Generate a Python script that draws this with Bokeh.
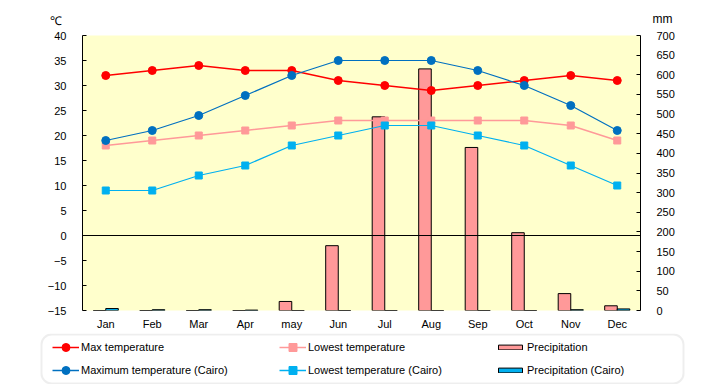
from bokeh.plotting import figure
from bokeh.layouts import column
from bokeh.models import (Range1d, LinearAxis, SingleIntervalTicker, Span, Legend,
                          LegendItem, Label, BoxAnnotation, FactorRange, ColumnDataSource)
from bokeh.transform import dodge
from bokeh.embed import file_html
from bokeh.resources import INLINE

months = ["Jan", "Feb", "Mar", "Apr", "may", "Jun", "Jul", "Aug", "Sep", "Oct", "Nov", "Dec"]
max_temp = [32, 33, 34, 33, 33, 31, 30, 29, 30, 31, 32, 31]
low_temp = [18, 19, 20, 21, 22, 23, 23, 23, 23, 23, 22, 19]
precip = [0, 0, 0, 0, 23, 165, 493, 615, 415, 198, 43, 12]
cairo_max = [19, 21, 24, 28, 32, 35, 35, 35, 33, 30, 26, 21]
cairo_low = [9, 9, 12, 14, 18, 20, 22, 22, 20, 18, 14, 10]
cairo_precip = [5, 2, 2, 1, 0, 0, 0, 0, 0, 0, 2, 4]

FONT = "Liberation Sans"
W = 716

RED, PINK, BLUE, CYAN = "#FF0000", "#FF9999", "#0070C0", "#00B0F0"

src = ColumnDataSource(dict(month=months, max_temp=max_temp, low_temp=low_temp,
                            precip=precip, cairo_max=cairo_max, cairo_low=cairo_low,
                            cairo_precip=cairo_precip))


def no_align(f):
    try:
        f.frame_align = False
    except Exception:
        pass


def blank(h):
    f = figure(width=W, height=h, x_range=Range1d(0, W), y_range=Range1d(0, h),
               x_axis_type=None, y_axis_type=None, output_backend="svg", toolbar_location=None,
               min_border=0, min_border_left=0, min_border_right=0, min_border_top=0,
               min_border_bottom=0)
    f.outline_line_color = None
    f.xgrid.visible = False
    f.ygrid.visible = False
    f.background_fill_color = "white"
    f.border_fill_color = "white"
    no_align(f)
    return f


# header with unit labels
HH = 28
head = blank(HH)
head.add_layout(Label(x=55, y=HH - 20, text="℃", text_align="center", text_baseline="middle",
                      text_font=FONT, text_font_size="12px", text_color="black"))
head.add_layout(Label(x=662, y=HH - 18, text="mm", text_align="center", text_baseline="middle",
                      text_font=FONT, text_font_size="12px", text_color="black"))

# main chart
p = figure(width=W, height=305, x_range=FactorRange(*months), y_range=Range1d(-15, 40),
           output_backend="svg", toolbar_location=None,
           min_border_left=82, min_border_right=W - 640, min_border_top=7, min_border_bottom=23)
no_align(p)
p.background_fill_color = "#FFFFCC"
p.border_fill_color = "white"
p.outline_line_color = None
p.xgrid.visible = False
p.ygrid.visible = False

p.extra_y_ranges = {"precip": Range1d(0, 700)}

yl = p.yaxis[0]
yl.ticker = SingleIntervalTicker(interval=5)
yr = LinearAxis(y_range_name="precip", ticker=SingleIntervalTicker(interval=50))
p.add_layout(yr, "right")
for ax in (yl, yr):
    ax.major_tick_in = 4
    ax.major_tick_out = 0
    ax.minor_tick_line_color = None
    ax.axis_line_color = "black"
    ax.major_tick_line_color = "black"
    ax.major_label_standoff = 12
    ax.major_label_text_font = FONT
    ax.major_label_text_font_size = "11px"
    ax.major_label_text_color = "black"

xa = p.xaxis[0]
xa.axis_line_color = None
xa.major_tick_line_color = None
xa.minor_tick_line_color = None
xa.major_label_standoff = 1
xa.major_label_text_font = FONT
xa.major_label_text_font_size = "11px"
xa.major_label_text_color = "black"

p.vbar(x=dodge("month", -0.135, range=p.x_range), top="precip", bottom=0, width=0.27,
       source=src, y_range_name="precip", fill_color=PINK, line_color="black", line_width=1)
p.vbar(x=dodge("month", 0.135, range=p.x_range), top="cairo_precip", bottom=0, width=0.27,
       source=src, y_range_name="precip", fill_color=CYAN, line_color="black", line_width=1)

p.add_layout(Span(location=0, dimension="width", line_color="black", line_width=1))

p.line("month", "max_temp", source=src, line_color=RED, line_width=1.5)
p.scatter("month", "max_temp", source=src, marker="circle", size=8, fill_color=RED, line_color=RED)
p.line("month", "low_temp", source=src, line_color=PINK, line_width=1.5)
p.scatter("month", "low_temp", source=src, marker="square", size=7, fill_color=PINK, line_color=PINK)
p.line("month", "cairo_max", source=src, line_color=BLUE, line_width=1.2)
p.scatter("month", "cairo_max", source=src, marker="circle", size=8, fill_color=BLUE, line_color=BLUE)
p.line("month", "cairo_low", source=src, line_color=CYAN, line_width=1.2)
p.scatter("month", "cairo_low", source=src, marker="square", size=7, fill_color=CYAN, line_color=CYAN)

# legend strip (key samples are styled stand-ins placed outside the visible range)
LH = 51
lg = blank(LH)
box = BoxAnnotation(left=41, right=683, top=LH - 1, bottom=1,
                    fill_color="white", fill_alpha=1, line_color="#C8C8C8", line_width=2)
try:
    box.border_radius = 10
except Exception:
    pass
lg.add_layout(box)

off = dict(x=[-100, -90], y=[-100, -100])
r = {}
for key, col, mk in (("max", RED, "circle"), ("low", PINK, "square"),
                     ("cmax", BLUE, "circle"), ("clow", CYAN, "square")):
    r[key] = [lg.line(x=off["x"], y=off["y"], line_color=col, line_width=1.5),
              lg.scatter(x=off["x"], y=off["y"], marker=mk, fill_color=col, line_color=col)]
r["pr"] = [lg.vbar(x=off["x"], top=off["y"], width=1, fill_color=PINK, line_color="black")]
r["cpr"] = [lg.vbar(x=off["x"], top=off["y"], width=1, fill_color=CYAN, line_color="black")]


def mk_legend(items, vx, gh=20, gw=27):
    leg = Legend(items=items, location=(vx, 4), orientation="vertical",
                 padding=0, spacing=3, margin=0, glyph_width=gw, glyph_height=gh,
                 label_height=20, label_standoff=2, label_text_font=FONT,
                 label_text_font_size="11px", label_text_color="black",
                 border_line_color=None, background_fill_alpha=0)
    lg.add_layout(leg)
    return leg


mk_legend([LegendItem(label="Max temperature", renderers=r["max"]),
           LegendItem(label="Maximum temperature (Cairo)", renderers=r["cmax"])], 52)
mk_legend([LegendItem(label="Lowest temperature", renderers=r["low"]),
           LegendItem(label="Lowest temperature (Cairo)", renderers=r["clow"])], 279)
mk_legend([LegendItem(label="Precipitation", renderers=r["pr"]),
           LegendItem(label="Precipitation (Cairo)", renderers=r["cpr"])], 495, gh=6, gw=30)

layout = column(head, p, lg, spacing=0)
open("out.html", "w").write(file_html(layout, INLINE))
